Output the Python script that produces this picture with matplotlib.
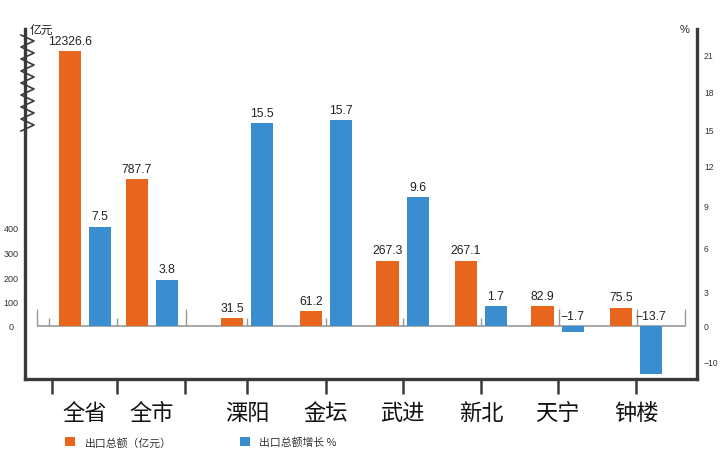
import matplotlib
matplotlib.use("Agg")
import matplotlib.pyplot as plt
import numpy as np

plt.rcParams["font.family"] = ["Liberation Sans", "Noto Sans CJK SC", "DejaVu Sans"]
CJK = ["Noto Sans CJK SC", "DejaVu Sans"]

ORANGE = "#e8651d"
BLUE = "#3a8ed0"
DARK = "#3a3a3a"

# data
regions = ["全省", "全市", "溧阳", "金坛", "武进", "新北", "天宁", "钟楼"]
x_pos = [0, 0.865, 2.09, 3.11, 4.10, 5.11, 6.10, 7.11]
export_amount = [12326.6, 787.7, 31.5, 61.2, 267.3, 267.1, 82.9, 75.5]
export_growth = [7.5, 3.8, 15.5, 15.7, 9.6, 1.7, -1.7, -13.7]

amount_ticks = [0, 100, 200, 300, 400]
growth_ticks = [-10, 0, 3, 6, 9, 12, 15, 18, 21]

# broken (non-linear) scales, value -> height in px above the zero line
amt_knots = [-1000, 0, 400, 787.7, 12326.6, 20000]
amt_px = [-245, 0, 98, 147, 275, 310]
pct_knots = [-30, -10, 0, 3, 6, 9, 12, 15, 18, 21, 30]
pct_px = [-105, -35, 0, 35, 78, 121, 160, 197, 234, 272, 390]

def amt_fwd(v):
    return np.interp(v, amt_knots, amt_px)

def amt_inv(p):
    return np.interp(p, amt_px, amt_knots)

def pct_fwd(v):
    return np.interp(v, pct_knots, pct_px)

def pct_inv(p):
    return np.interp(p, pct_px, pct_knots)

PX_BOTTOM, PX_TOP = -53, 297

fig = plt.figure(figsize=(7.2, 4.6), dpi=100)
ax = fig.add_axes([25 / 720, 80 / 460, 672 / 720, 350 / 460])
ax2 = ax.twinx()

ax.set_yscale("function", functions=(amt_fwd, amt_inv))
ax2.set_yscale("function", functions=(pct_fwd, pct_inv))
ax.set_ylim(amt_inv(PX_BOTTOM), amt_inv(PX_TOP))
ax2.set_ylim(pct_inv(PX_BOTTOM), pct_inv(PX_TOP))
ax.set_xlim(-0.774, 7.897)

w = 0.29
off = 0.194
xo = np.array(x_pos) - off
xb = np.array(x_pos) + off
bars_o = ax.bar(xo, export_amount, width=w, color=ORANGE, zorder=3)
bars_b = ax2.bar(xb, export_growth, width=w, color=BLUE, zorder=3)

for x, v in zip(xo, export_amount):
    ax.annotate(f"{v:g}", (x, v), xytext=(0, 3), textcoords="offset points",
                ha="center", va="bottom", fontsize=8.7, color="#222")
for x, v in zip(xb, export_growth):
    y = v if v > 0 else 0
    label = f"{v:g}".replace("-", "\u2212")
    ax2.annotate(label, (x, y), xytext=(0, 3), textcoords="offset points",
                 ha="center", va="bottom", fontsize=8.7, color="#222")

# inner zero line with small marks
ax.hlines(0, -0.619, 7.74, color="#999999", lw=1.2, zorder=1)
tall_marks = [-0.619, 1.30, 6.12, 7.12, 7.74]
short_marks = [-0.465, 0.413, 2.09, 3.11, 4.10, 5.11]
ax.vlines(tall_marks, 0, amt_inv(17), color="#999999", lw=1.0, zorder=1)
ax.vlines(short_marks, 0, amt_inv(8), color="#999999", lw=1.0, zorder=1)

# frame
for s in ["top", "right"]:
    ax.spines[s].set_visible(False)
for s in ["top", "left", "bottom"]:
    ax2.spines[s].set_visible(False)
for sp in [ax.spines["left"], ax.spines["bottom"], ax2.spines["right"]]:
    sp.set_color(DARK)
    sp.set_linewidth(2.4)

ax.set_yticks(amount_ticks)
ax.set_yticklabels([str(t) for t in amount_ticks])
ax.tick_params(axis="y", length=0, pad=10, labelsize=6.5, labelcolor="#333")
for lab in ax.get_yticklabels():
    lab.set_horizontalalignment("center")
ax.yaxis.set_minor_locator(plt.NullLocator())

ax2.set_yticks(growth_ticks)
ax2.set_yticklabels([str(t).replace("-", "\u2212") for t in growth_ticks])
ax2.tick_params(axis="y", length=0, pad=5, labelsize=6.2, labelcolor="#333")
ax2.yaxis.set_minor_locator(plt.NullLocator())

bottom_marks = [-0.426, 0.413, 1.29, 2.09, 3.11, 4.10, 5.11, 6.10, 7.11]
ax.xaxis.remove_overlapping_locs = False
ax.set_xticks(x_pos)
ax.set_xticklabels(regions, fontfamily=CJK, fontsize=16, fontweight="medium",
                   color="#111")
ax.set_xticks(bottom_marks, minor=True)
ax.tick_params(axis="x", which="major", length=0, pad=16)
ax.tick_params(axis="x", which="minor", length=10.5, width=1.8, color=DARK,
               direction="out")

# axis units
ax.text(5 / 672, 1.0, "亿元", transform=ax.transAxes, fontfamily=CJK,
        fontsize=8.5, color="#222", ha="left", va="center")
ax.text(1 - 12 / 672, 1.0, "%", transform=ax.transAxes,
        fontsize=8, color="#222", ha="center", va="center")

# zigzag break mark on the amount axis
zy = np.arange(36, 133, 6)
zx = np.where(np.arange(len(zy)) % 2 == 0, 21, 34)
ax.plot((zx - 25) / 672, (380 - zy) / 350, color=DARK, lw=1.2,
        transform=ax.transAxes, clip_on=False, zorder=5)

leg = ax.legend([bars_o, bars_b], ["出口总额（亿元）", "出口总额增长 %"],
                loc="center left", bbox_to_anchor=(65 / 720, 17 / 460),
                bbox_transform=fig.transFigure, ncol=2, frameon=False,
                handlelength=0.9, handleheight=0.9, handletextpad=0.9,
                columnspacing=6.3, prop={"family": CJK, "size": 7.8},
                borderpad=0, borderaxespad=0)
for t in leg.get_texts():
    t.set_color("#333")

fig.savefig("out.png", dpi=100)
